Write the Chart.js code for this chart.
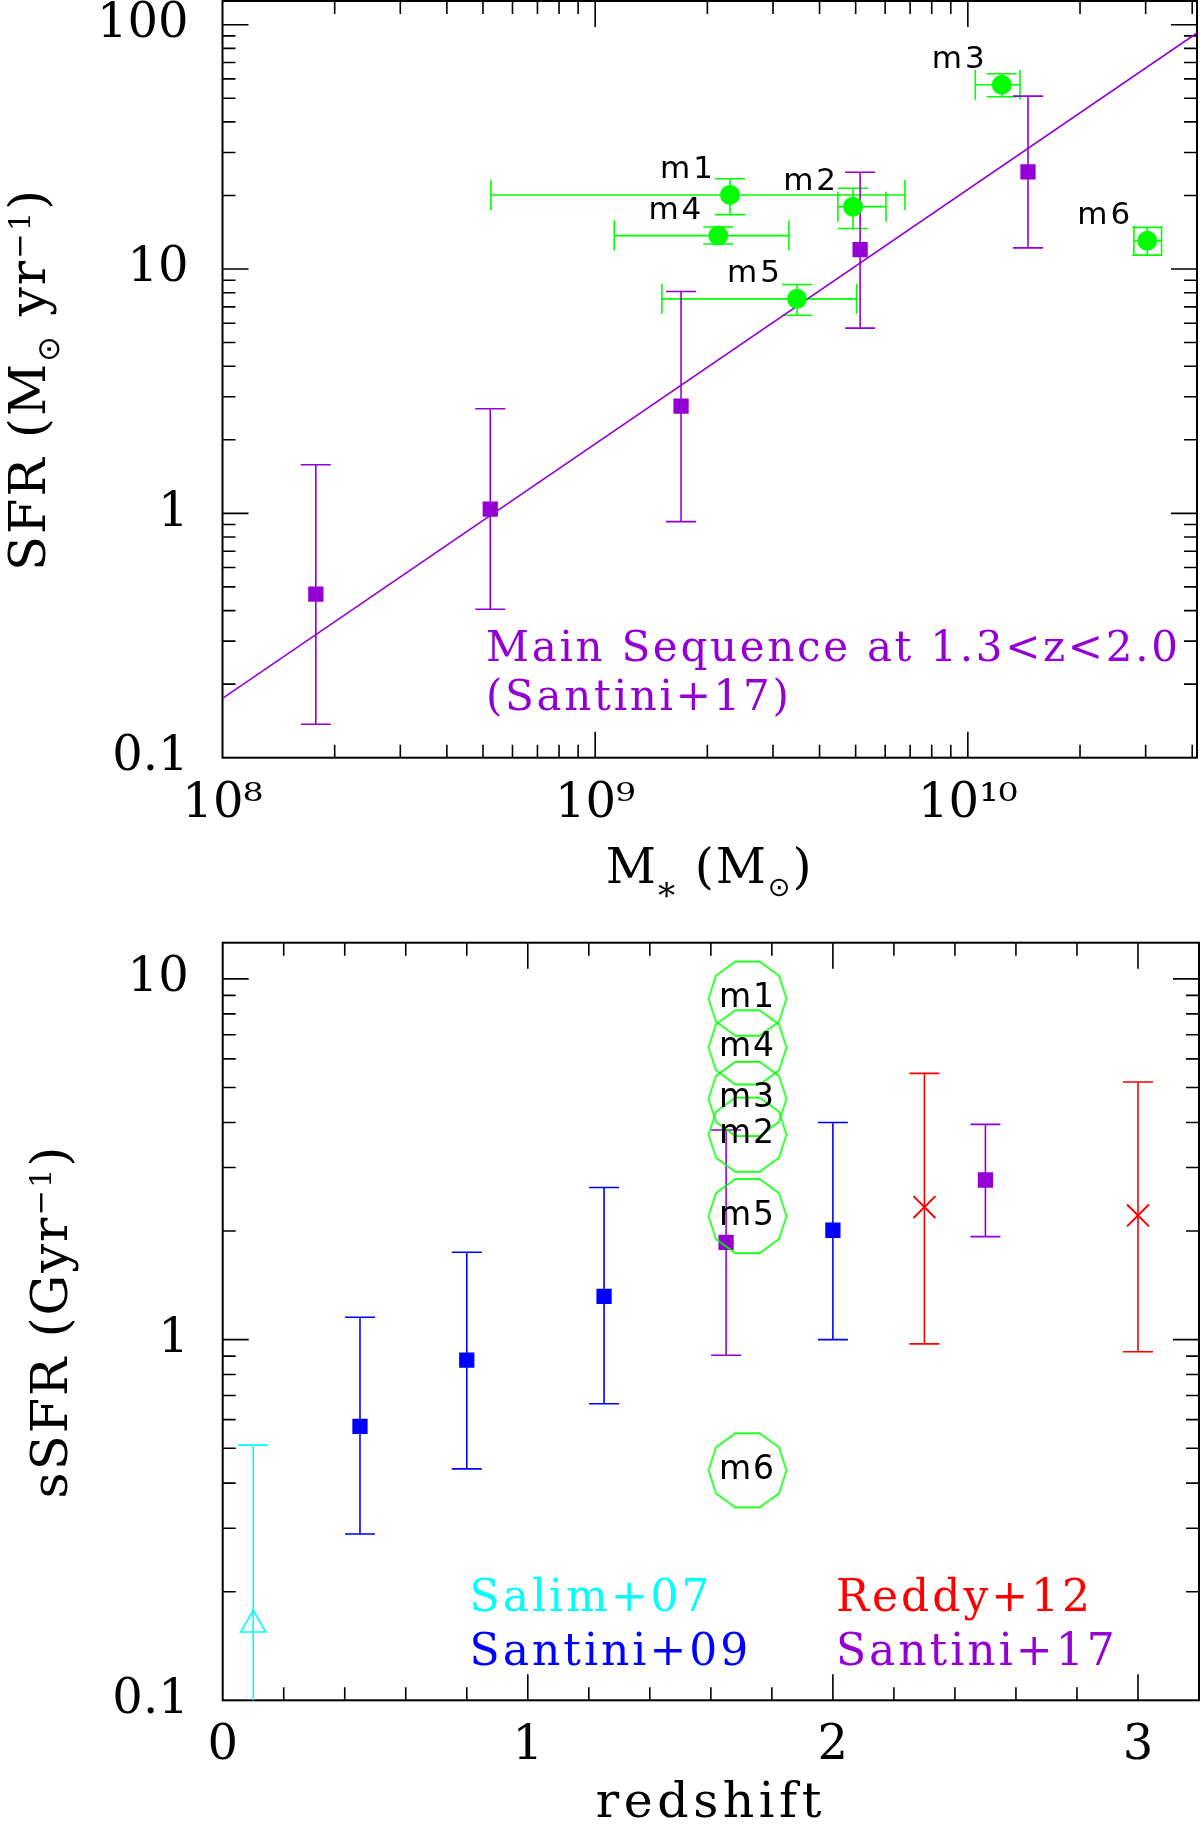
<!DOCTYPE html>
<html>
<head>
<meta charset="utf-8">
<script src="https://cdn.jsdelivr.net/npm/chart.js@4.4.1/dist/chart.umd.min.js"></script>
<style>
html, body { margin: 0; padding: 0; background: #fff; }
#wrap { position: relative; width: 1200px; height: 1828px; }
canvas { position: absolute; left: 0; }
#topChart { top: 0; }
#bottomChart { top: 914px; }
</style>
</head>
<body>
<div id="wrap">
  <canvas id="topChart" width="1200" height="914"></canvas>
  <canvas id="bottomChart" width="1200" height="914"></canvas>
</div>
<script>
const PURPLE = '#9400d3';
const GREEN = '#00ff00';
const BLUE = '#0000ff';
const RED = '#ff0000';
const CYAN = '#00ffff';
const SERIF = 'DejaVu Serif';
const SANS = 'DejaVu Sans';

// ---- top panel: SFR vs stellar mass ----
const massTicks = [1e8, 1e9, 1e10];
const massTickLabels = ['10⁸', '10⁹', '10¹⁰'];
const sfrTicks = [0.1, 1, 10, 100];
const sfrTickLabels = ['0.1', '1', '10', '100'];

// Santini+17 main sequence bins
const msMass = [1.78e8, 5.23e8, 1.70e9, 5.14e9, 1.45e10];
const msSfr = [0.467, 1.04, 2.75, 12.0, 25.0];
const msSfrLo = [0.137, 0.405, 0.925, 5.73, 12.2];
const msSfrHi = [1.58, 2.68, 8.09, 24.9, 51.0];

// main sequence fit line (end points)
const fitMass = [1e8, 4.12e10];
const fitSfr = [0.175, 92.5];

// our galaxies
const galNames = ['m1', 'm2', 'm3', 'm4', 'm5', 'm6'];
const galMass = [2.30e9, 4.92e9, 1.233e10, 2.14e9, 3.48e9, 3.03e10];
const galMassLo = [5.25e8, 4.48e9, 1.047e10, 1.125e9, 1.51e9, 2.79e10];
const galMassHi = [6.78e9, 6.03e9, 1.38e10, 3.31e9, 5.03e9, 3.31e10];
const galSfr = [20.1, 18.0, 56.8, 13.7, 7.55, 13.05];
const galSfrLo = [16.7, 14.66, 50.7, 12.65, 6.47, 11.4];
const galSfrHi = [23.4, 21.4, 63.0, 14.85, 8.64, 14.8];

// ---- bottom panel: sSFR vs redshift ----
const zTicks = [0, 1, 2, 3];
const zTickLabels = ['0', '1', '2', '3'];
const ssfrTicks = [0.1, 1, 10];
const ssfrTickLabels = ['0.1', '1', '10'];

const salimZ = [0.10];
const salimSsfr = [0.162];
const salimLo = [0.05];
const salimHi = [0.51];

const santini09Z = [0.45, 0.80, 1.25, 2.00];
const santini09Ssfr = [0.575, 0.877, 1.318, 2.01];
const santini09Lo = [0.289, 0.438, 0.664, 1.00];
const santini09Hi = [1.153, 1.746, 2.64, 4.00];

const reddyZ = [2.30, 3.00];
const reddySsfr = [2.33, 2.21];
const reddyLo = [0.973, 0.925];
const reddyHi = [5.47, 5.18];

const santini17Z = [1.65, 2.50];
const santini17Ssfr = [1.86, 2.77];
const santini17Lo = [0.905, 1.93];
const santini17Hi = [3.81, 3.95];

const galZ = [1.72, 1.72, 1.72, 1.72, 1.72, 1.72];
const galSsfr = [8.82, 3.70, 4.65, 6.46, 2.20, 0.434];

function points(xs, ys) {
  return xs.map((x, i) => ({ x: x, y: ys[i] }));
}

function makeDecagon(r, color) {
  const c = document.createElement('canvas');
  const s = Math.ceil(2 * r + 4);
  c.width = s;
  c.height = s;
  const g = c.getContext('2d');
  g.strokeStyle = color;
  g.lineWidth = 1.6;
  g.beginPath();
  for (let k = 0; k < 10; k++) {
    const t = k * Math.PI / 5;
    const x = s / 2 + r * Math.cos(t);
    const y = s / 2 + r * Math.sin(t);
    if (k === 0) g.moveTo(x, y); else g.lineTo(x, y);
  }
  g.closePath();
  g.stroke();
  return c;
}

function tickMarks(scale, minorStep) {
  const out = [];
  if (scale.type === 'logarithmic') {
    const d0 = Math.floor(Math.log10(scale.min));
    const d1 = Math.ceil(Math.log10(scale.max));
    for (let d = d0; d <= d1; d++) {
      for (let k = 1; k <= 9; k++) {
        const v = k * Math.pow(10, d);
        if (v > scale.min * 1.001 && v < scale.max * 0.999) out.push({ v: v, major: k === 1 });
      }
    }
  } else {
    const n0 = Math.ceil(scale.min / minorStep);
    const n1 = Math.floor(scale.max / minorStep);
    for (let n = n0; n <= n1; n++) {
      const v = n * minorStep;
      if (v > scale.min + 1e-9 && v < scale.max - 1e-9) out.push({ v: v, major: n % 5 === 0 });
    }
  }
  return out;
}

function drawRich(ctx, parts, cx, cy, size, rot, spacing) {
  ctx.save();
  ctx.translate(cx, cy);
  if (rot) ctx.rotate(rot);
  ctx.textAlign = 'left';
  ctx.textBaseline = 'alphabetic';
  ctx.fillStyle = '#000';
  ctx.letterSpacing = spacing || '0px';
  let w = 0;
  parts.forEach(p => {
    ctx.font = (size * (p.s || 1)) + 'px "' + (p.f || SERIF) + '"';
    w += ctx.measureText(p.t).width;
  });
  let x = -w / 2;
  parts.forEach(p => {
    ctx.font = (size * (p.s || 1)) + 'px "' + (p.f || SERIF) + '"';
    ctx.fillText(p.t, x, (p.dy || 0) * size);
    x += ctx.measureText(p.t).width;
  });
  ctx.restore();
}

function drawErrors(ctx, chart, ds) {
  const xs = chart.scales.x, ys = chart.scales.y;
  const cap = 15;
  ctx.strokeStyle = ds.borderColor;
  ctx.lineWidth = 1.6;
  ds.data.forEach((p, i) => {
    const px = xs.getPixelForValue(p.x);
    const py = ys.getPixelForValue(p.y);
    ctx.beginPath();
    if (ds.yLo) {
      const a = ys.getPixelForValue(ds.yLo[i]);
      const b = ys.getPixelForValue(ds.yHi[i]);
      ctx.moveTo(px, a); ctx.lineTo(px, b);
      ctx.moveTo(px - cap, a); ctx.lineTo(px + cap, a);
      ctx.moveTo(px - cap, b); ctx.lineTo(px + cap, b);
    }
    if (ds.xLo) {
      const a = xs.getPixelForValue(ds.xLo[i]);
      const b = xs.getPixelForValue(ds.xHi[i]);
      ctx.moveTo(a, py); ctx.lineTo(b, py);
      ctx.moveTo(a, py - cap); ctx.lineTo(a, py + cap);
      ctx.moveTo(b, py - cap); ctx.lineTo(b, py + cap);
    }
    ctx.stroke();
  });
}

const decor = {
  id: 'decor',
  beforeDatasetsDraw(chart, args, o) {
    const ctx = chart.ctx, a = chart.chartArea;
    ctx.save();
    ctx.strokeStyle = '#000';
    ctx.lineWidth = 1.6;
    ctx.beginPath();
    tickMarks(chart.scales.x, o.xMinorStep).forEach(t => {
      const px = chart.scales.x.getPixelForValue(t.v);
      const len = t.major ? 26 : 13;
      ctx.moveTo(px, a.bottom); ctx.lineTo(px, a.bottom - len);
      ctx.moveTo(px, a.top); ctx.lineTo(px, a.top + len);
    });
    tickMarks(chart.scales.y, o.yMinorStep).forEach(t => {
      const py = chart.scales.y.getPixelForValue(t.v);
      const len = t.major ? 26 : 13;
      ctx.moveTo(a.left, py); ctx.lineTo(a.left + len, py);
      ctx.moveTo(a.right, py); ctx.lineTo(a.right - len, py);
    });
    ctx.stroke();
    ctx.lineWidth = 2;
    ctx.strokeRect(a.left, a.top, a.right - a.left, a.bottom - a.top);
    ctx.beginPath();
    ctx.rect(a.left, a.top, a.right - a.left, a.bottom - a.top);
    ctx.clip();
    chart.data.datasets.forEach(ds => {
      if (ds.yLo || ds.xLo) drawErrors(ctx, chart, ds);
    });
    ctx.restore();
  },
  afterDatasetsDraw(chart, args, o) {
    const ctx = chart.ctx, a = chart.chartArea;
    ctx.save();
    chart.data.datasets.forEach((ds, di) => {
      if (!ds.names) return;
      const meta = chart.getDatasetMeta(di);
      ctx.font = o.nameFont;
      ctx.fillStyle = '#000';
      ctx.letterSpacing = o.nameSpacing;
      meta.data.forEach((pt, i) => {
        if (o.nameInside) {
          ctx.textAlign = 'center';
          ctx.textBaseline = 'middle';
          ctx.fillText(ds.names[i], pt.x, pt.y);
        } else {
          ctx.textAlign = 'right';
          ctx.textBaseline = 'alphabetic';
          ctx.fillText(ds.names[i], pt.x - 14, pt.y - 17);
        }
      });
    });
    ctx.letterSpacing = '0px';
    (o.notes || []).forEach(n => {
      ctx.font = n.font;
      ctx.fillStyle = n.color;
      ctx.textAlign = 'left';
      ctx.textBaseline = 'alphabetic';
      ctx.letterSpacing = n.spacing || '0px';
      ctx.fillText(n.text, a.left + n.dx, a.bottom - n.up);
    });
    ctx.restore();
    drawRich(ctx, o.xTitle, (a.left + a.right) / 2, a.bottom + o.xTitleDown, 49, 0, o.xTitleSpacing);
    drawRich(ctx, o.yTitle, o.yTitleX, (a.top + a.bottom) / 2, 51, -Math.PI / 2, '2px');
  }
};

function axis(type, min, max, tickVals, tickLabels, isX, size, pad) {
  return {
    type: type,
    min: min,
    max: max,
    bounds: 'data',
    grid: { display: false, drawTicks: false },
    border: { display: false },
    afterBuildTicks: s => { s.ticks = tickVals.map(v => ({ value: v })); },
    afterFit: s => {
      if (isX) { s.height = size; s.paddingLeft = 0; s.paddingRight = 0; }
      else { s.width = size; s.paddingTop = 0; s.paddingBottom = 0; }
    },
    ticks: {
      autoSkip: false,
      maxRotation: 0,
      minRotation: 0,
      padding: pad,
      color: '#000',
      font: { family: SERIF, size: 48 },
      callback: (v, i) => tickLabels[i]
    }
  };
}

function options(cfg) {
  return {
    responsive: false,
    animation: false,
    events: [],
    layout: { padding: cfg.padding, autoPadding: false },
    plugins: {
      legend: { display: false },
      tooltip: { enabled: false },
      decor: cfg.decor
    },
    scales: { x: cfg.x, y: cfg.y }
  };
}

new Chart(document.getElementById('topChart'), {
  type: 'scatter',
  plugins: [decor],
  data: {
    datasets: [
      {
        label: 'Galaxies',
        data: points(galMass, galSfr),
        xLo: galMassLo, xHi: galMassHi, yLo: galSfrLo, yHi: galSfrHi,
        names: galNames,
        pointStyle: 'circle', pointRadius: 10,
        backgroundColor: GREEN, borderColor: GREEN, borderWidth: 0,
        order: 1
      },
      {
        label: 'Santini+17',
        data: points(msMass, msSfr),
        yLo: msSfrLo, yHi: msSfrHi,
        pointStyle: 'rect', pointRadius: 10.8,
        backgroundColor: PURPLE, borderColor: PURPLE, borderWidth: 0,
        order: 2
      },
      {
        label: 'Main sequence',
        type: 'line',
        data: points(fitMass, fitSfr),
        borderColor: PURPLE, borderWidth: 1.6,
        pointRadius: 0, fill: false, tension: 0,
        order: 3
      }
    ]
  },
  options: options({
    padding: { left: 0, right: 3, top: 1, bottom: 0 },
    x: axis('logarithmic', 1e8, 4.12e10, massTicks, massTickLabels, true, 156.3, 18),
    y: axis('logarithmic', 0.1, 125, sfrTicks, sfrTickLabels, false, 222.5, 34),
    decor: {
      nameFont: '31px "' + SANS + '"',
      nameSpacing: '3px',
      nameInside: false,
      notes: [
        { text: 'Main Sequence at 1.3<z<2.0', color: PURPLE, font: '42px "' + SERIF + '"', dx: 263.5, up: 96.7, spacing: '2.7px' },
        { text: '(Santini+17)', color: PURPLE, font: '42px "' + SERIF + '"', dx: 263.5, up: 47.7, spacing: '2.7px' }
      ],
      xTitle: [{ t: 'M' }, { t: '*', s: 0.7, dy: 0.5 }, { t: ' (M' }, { t: '⊙', s: 0.55, dy: 0.28, f: SANS }, { t: ')' }],
      xTitleDown: 125,
      xTitleSpacing: '2px',
      yTitle: [{ t: 'SFR (M' }, { t: '⊙', s: 0.6, dy: 0.28, f: SANS }, { t: ' yr' }, { t: '−1', s: 0.6, dy: -0.3 }, { t: ')' }],
      yTitleX: 45
    }
  })
});

new Chart(document.getElementById('bottomChart'), {
  type: 'scatter',
  plugins: [decor],
  data: {
    datasets: [
      {
        label: 'Galaxies',
        data: points(galZ, galSsfr),
        names: galNames,
        pointStyle: makeDecagon(39, GREEN), pointRadius: 39,
        backgroundColor: 'rgba(0,0,0,0)', borderColor: GREEN,
        order: 1
      },
      {
        label: 'Santini+17',
        data: points(santini17Z, santini17Ssfr),
        yLo: santini17Lo, yHi: santini17Hi,
        pointStyle: 'rect', pointRadius: 10.8,
        backgroundColor: PURPLE, borderColor: PURPLE, borderWidth: 0,
        order: 2
      },
      {
        label: 'Reddy+12',
        data: points(reddyZ, reddySsfr),
        yLo: reddyLo, yHi: reddyHi,
        pointStyle: 'crossRot', pointRadius: 15.5,
        backgroundColor: RED, borderColor: RED, borderWidth: 2,
        order: 2
      },
      {
        label: 'Santini+09',
        data: points(santini09Z, santini09Ssfr),
        yLo: santini09Lo, yHi: santini09Hi,
        pointStyle: 'rect', pointRadius: 10.8,
        backgroundColor: BLUE, borderColor: BLUE, borderWidth: 0,
        order: 2
      },
      {
        label: 'Salim+07',
        data: points(salimZ, salimSsfr),
        yLo: salimLo, yHi: salimHi,
        pointStyle: 'triangle', pointRadius: 14.5,
        backgroundColor: 'rgba(0,0,0,0)', borderColor: CYAN, borderWidth: 1.6,
        order: 2
      }
    ]
  },
  options: options({
    padding: { left: 0, right: 1, top: 28.7, bottom: 0 },
    x: axis('linear', 0, 3.2, zTicks, zTickLabels, true, 127.7, 17),
    y: axis('logarithmic', 0.1, 12.6, ssfrTicks, ssfrTickLabels, false, 222.7, 34),
    decor: {
      xMinorStep: 0.2,
      nameFont: '33px "' + SANS + '"',
      nameSpacing: '2px',
      nameInside: true,
      notes: [
        { text: 'Salim+07', color: CYAN, font: '44px "' + SERIF + '"', dx: 246.8, up: 89.6, spacing: '3px' },
        { text: 'Santini+09', color: BLUE, font: '44px "' + SERIF + '"', dx: 246.8, up: 35.3, spacing: '3px' },
        { text: 'Reddy+12', color: RED, font: '44px "' + SERIF + '"', dx: 613.2, up: 89.6, spacing: '3px' },
        { text: 'Santini+17', color: PURPLE, font: '44px "' + SERIF + '"', dx: 613.2, up: 35.3, spacing: '3px' }
      ],
      xTitle: [{ t: 'redshift' }],
      xTitleDown: 116.4,
      xTitleSpacing: '4.5px',
      yTitle: [{ t: 'sSFR (Gyr' }, { t: '−1', s: 0.6, dy: -0.3 }, { t: ')' }],
      yTitleX: 66.7
    }
  })
});
</script>
</body>
</html>
